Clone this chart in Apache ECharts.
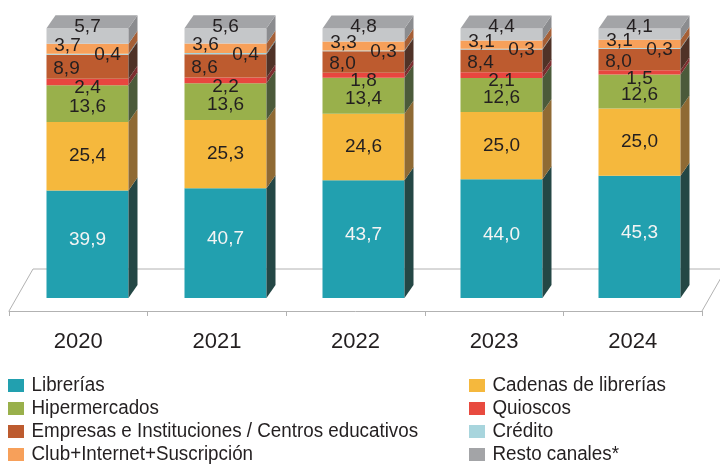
<!DOCTYPE html>
<html>
<head>
<meta charset="utf-8">
<title>Canales de venta</title>
<script src="https://cdn.jsdelivr.net/npm/echarts@6/dist/echarts.min.js"></script>
<style>
  html, body { margin: 0; padding: 0; background: #ffffff; }
  #chart { width: 720px; height: 466px; }
</style>
</head>
<body>
<div id="chart"></div>
<script>
// Share of sales by channel (%), one value per year
const years = ['2020', '2021', '2022', '2023', '2024'];
const librerias     = [39.9, 40.7, 43.7, 44.0, 45.3];
const cadenas       = [25.4, 25.3, 24.6, 25.0, 25.0];
const hipermercados = [13.6, 13.6, 13.4, 12.6, 12.6];
const quioscos      = [2.4, 2.2, 1.8, 2.1, 1.5];
const empresas      = [8.9, 8.6, 8.0, 8.4, 8.0];
const credito       = [0.4, 0.4, 0.3, 0.3, 0.3];
const club          = [3.7, 3.6, 3.3, 3.1, 3.1];
const resto         = [5.7, 5.6, 4.8, 4.4, 4.1];

// Pseudo-3D depth of each column
const DX = 9, DY = -13;
const BAR_RATIO = 82 / 138;
const TOP_FACE = '#A3A4A7';
const TEXT_DARK = '#231F20';
const LABEL_FONT = '19px "Liberation Sans", Arial, Helvetica, sans-serif';

// Stack definition, bottom to top
const layers = [
  { name: 'Librerías', values: librerias, front: '#22A0AF', side: '#244745', legend: '#22A0AF', text: '#F4F4F4', dx: 0, dy: -4 },
  { name: 'Cadenas de librerías', values: cadenas, front: '#F5B83D', side: '#8F6A34', legend: '#F5B83D', text: TEXT_DARK, dx: 0, dy: 0 },
  { name: 'Hipermercados', values: hipermercados, front: '#99B04B', side: '#4B5A3A', legend: '#99B04B', text: TEXT_DARK, dx: 0, dy: 3 },
  { name: 'Quioscos', values: quioscos, front: '#E8463F', side: '#7C2D2F', legend: '#E84A3F', text: TEXT_DARK, dx: 0, dy: 6 },
  { name: 'Empresas e Instituciones / Centros educativos', values: empresas, front: '#BD5B2F', side: '#4F3227', legend: '#BD5B2F', text: TEXT_DARK, dx: -21, dy: 2 },
  { name: 'Crédito', values: credito, front: '#A8D5DD', side: '#5D7C82', legend: '#A8D5DD', text: TEXT_DARK, dx: 20, dy: 1 },
  { name: 'Club+Internet+Suscripción', values: club, front: '#F7A05A', side: '#A55F36', legend: '#F7A05A', text: TEXT_DARK, dx: -20, dy: -3 },
  { name: 'Resto canales*', values: resto, front: '#C5C7C9', side: '#8B8C8F', legend: '#A3A4A7', text: TEXT_DARK, dx: 0, dy: -2, fromTop: true }
];

const fmt = v => v.toFixed(1).replace('.', ',');

function renderLayer(layer, isTop) {
  return function (params, api) {
    const i = api.value(0), base = api.value(1), v = api.value(2);
    const pb = api.coord([i, base]);
    const pt = api.coord([i, base + v]);
    const bw = api.size([1, 0])[0] * BAR_RATIO;
    const x0 = pb[0] - bw / 2, x1 = pb[0] + bw / 2;
    const yb = pb[1], yt = pt[1];
    const children = [
      { type: 'rect', shape: { x: x0, y: yt, width: bw, height: yb - yt }, style: { fill: layer.front } },
      { type: 'polygon', shape: { points: [[x1, yb], [x1 + DX, yb + DY], [x1 + DX, yt + DY], [x1, yt]] }, style: { fill: layer.side } }
    ];
    if (isTop) {
      children.push({ type: 'polygon', shape: { points: [[x0, yt], [x0 + DX, yt + DY], [x1 + DX, yt + DY], [x1, yt]] }, style: { fill: TOP_FACE } });
    }
    const ly = layer.fromTop ? yt + layer.dy : (yb + yt) / 2 + layer.dy;
    children.push({
      type: 'text', z2: 100,
      style: { text: fmt(v), x: pb[0] + layer.dx, y: ly, align: 'center', verticalAlign: 'middle', fill: layer.text, font: LABEL_FONT }
    });
    return { type: 'group', children };
  };
}

const cumulative = years.map(() => 0);
const series = layers.map((layer, k) => {
  const data = layer.values.map((v, i) => {
    const item = [i, cumulative[i], v];
    cumulative[i] += v;
    return item;
  });
  return {
    type: 'custom',
    name: layer.name,
    xAxisIndex: 0,
    yAxisIndex: 0,
    itemStyle: { color: layer.legend },
    encode: { x: 0, y: 1 },
    renderItem: renderLayer(layer, k === layers.length - 1),
    data: data,
    silent: true
  };
});

// Two-column key; the face is squeezed slightly to a semi-condensed width
const KEY_COLUMNS = [{ x: 8, items: [0, 2, 4, 6] }, { x: 469, items: [1, 3, 5, 7] }];
const KEY_TOP = 385.5, KEY_PITCH = 23, KEY_SQUEEZE = 0.94;
const keyElements = [];
KEY_COLUMNS.forEach(col => {
  col.items.forEach((k, row) => {
    const cy = KEY_TOP + row * KEY_PITCH;
    keyElements.push({
      type: 'rect', silent: true,
      shape: { x: col.x, y: cy - 6.5, width: 16, height: 13 },
      style: { fill: layers[k].legend }
    });
    keyElements.push({
      type: 'text', silent: true, x: col.x + 23.5, y: cy, scaleX: KEY_SQUEEZE,
      style: { text: layers[k].name, x: 0, y: 0, verticalAlign: 'middle', align: 'left', fill: TEXT_DARK, font: '20px "Liberation Sans", Arial, sans-serif' }
    });
  });
});

const chart = echarts.init(document.getElementById('chart'), null, { renderer: 'canvas' });
chart.setOption({
  animation: false,
  backgroundColor: '#ffffff',
  grid: [
    { left: 18.5, right: 11.5, top: 28.3, bottom: 168 },
    { left: 9, right: 18, top: 200, bottom: 155 }
  ],
  xAxis: [
    { gridIndex: 0, type: 'category', data: years, show: false },
    {
      gridIndex: 1, type: 'category', data: years, boundaryGap: true,
      axisLine: { lineStyle: { color: '#B2B2B2', width: 1 } },
      axisTick: { show: true, length: 5, lineStyle: { color: '#B2B2B2' } },
      axisLabel: { fontSize: 22, color: TEXT_DARK, margin: 20, fontFamily: '"Liberation Sans", Arial, sans-serif' }
    }
  ],
  yAxis: [
    { gridIndex: 0, type: 'value', min: 0, max: 100, show: false },
    { gridIndex: 1, type: 'value', show: false }
  ],
  graphic: [
    // floor of the 3D plot: side edges and back edge
    {
      type: 'polyline', z: 0, silent: true,
      shape: { points: [[9, 311], [33, 269], [726, 269], [702, 311]] },
      style: { stroke: '#B2B2B2', lineWidth: 1, fill: null }
    },
    { type: 'group', silent: true, children: keyElements }
  ],
  series: series
});
</script>
</body>
</html>
